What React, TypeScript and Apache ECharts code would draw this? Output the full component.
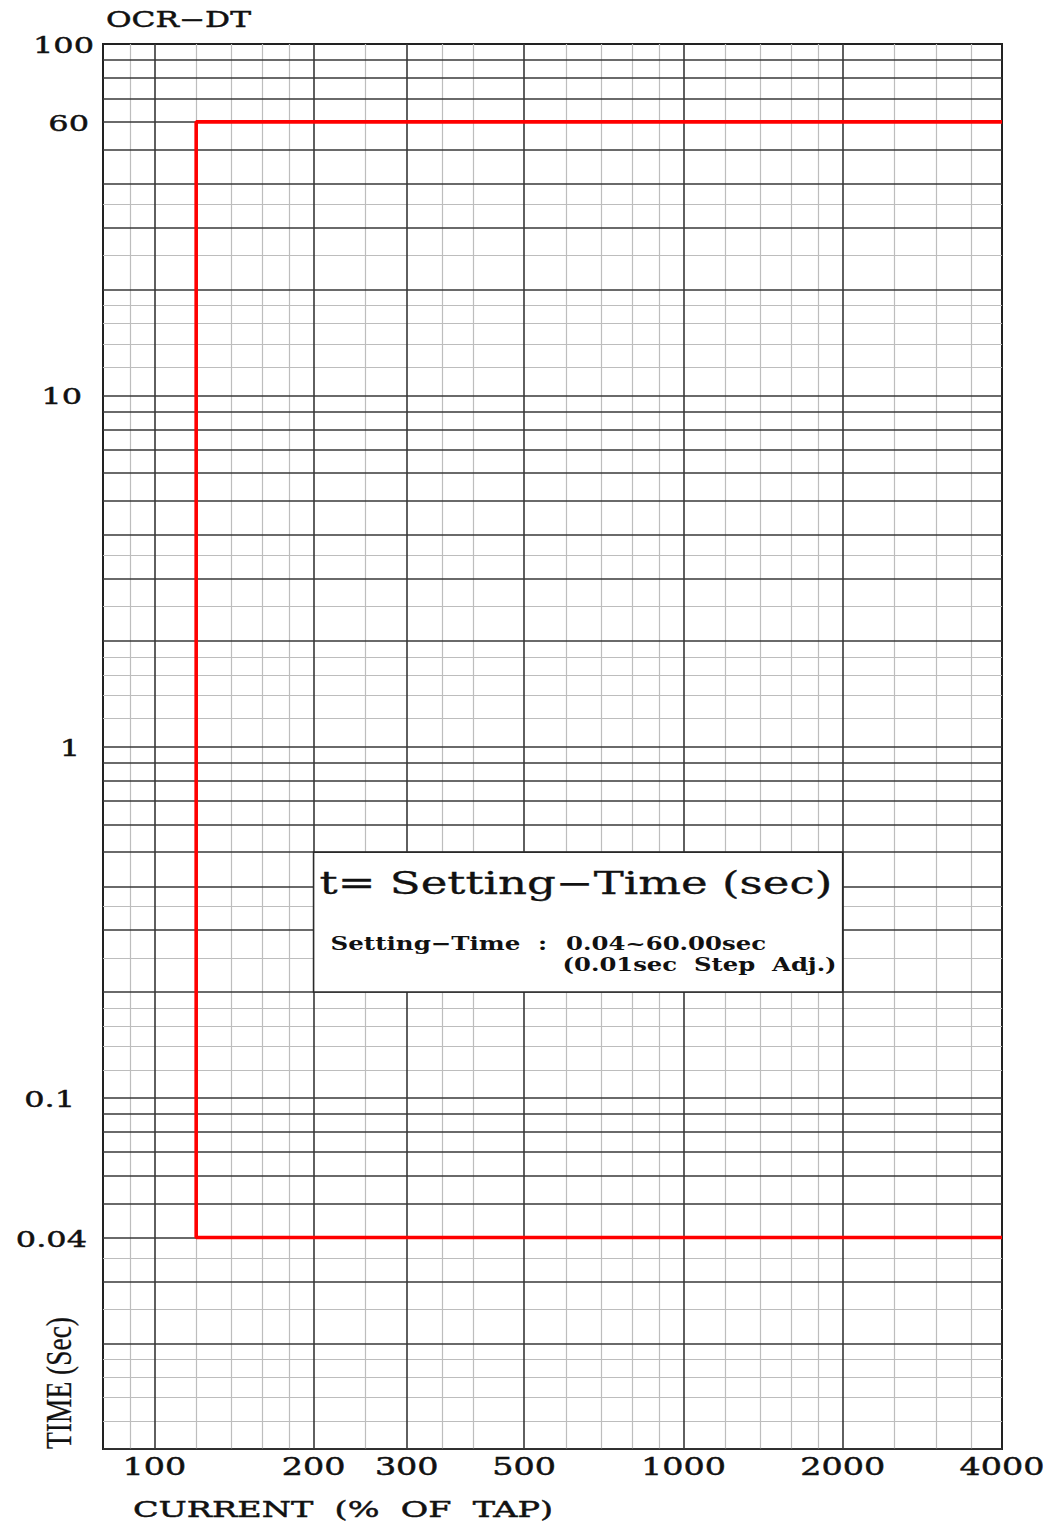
import React, { useEffect, useRef } from "react";
import * as echarts from "echarts";

// ---- data ----
const currentPct = [4000, 120, 120, 4000];
const timeSec = [60, 60, 0.04, 0.04];

const xTickValues = [100, 200, 300, 500, 1000, 2000, 4000];
const xTickText = ["100", "200", "300", "500", "1000", "2000", "4000"];
const yTickValues = [100, 60, 10, 1, 0.1, 0.04];
const yTickText = ["100", "60", "10", "1", "0.1", "0.04"];

const xMajorGrid = [100, 200, 300, 500, 1000, 2000];
const xMinorGrid = [90, 120, 140, 160, 180, 250, 350, 400, 600, 700, 800, 900, 1200, 1400, 1600, 1800, 2500, 3000, 3500];
const yDecades = [0.01, 0.1, 1, 10];
const yMajorSteps = [1, 2, 3, 4, 5, 6, 7, 8, 9];
const yMinorSteps = [1.2, 1.4, 1.6, 1.8, 2.5, 3.5];

const X_MIN = 80;
const X_MAX = 4000;
const Y_MIN = 0.01;
const Y_MAX = 100;

// note box corners in data units
const boxCurrent = [200, 2000];
const boxTime = [0.5, 0.2];

// ---- layout (pixels) ----
const yLabelRight = [94, 89, 82, 80, 75, 87];
const SERIF = "DejaVu Serif";

const measureCtx: any = typeof document !== "undefined" ? document.createElement("canvas").getContext("2d") : null;
function textWidth(text: string, family: string, size: number, weight: string) {
  measureCtx.font = `${weight} ${size}px "${family}"`;
  return measureCtx.measureText(text).width;
}

function txt(text: string, x: number, y: number, o: any) {
  const family = o.family || SERIF;
  const weight = o.weight || "normal";
  const size = o.size;
  let scaleX = o.scaleX || 1;
  if (o.width) scaleX = o.width / textWidth(text, family, size, weight);
  const align = o.align || "left";
  return {
    type: "text",
    x,
    y,
    scaleX,
    scaleY: 1,
    rotation: o.rotation || 0,
    silent: true,
    z: 100,
    style: {
      text,
      fontFamily: family,
      fontSize: size,
      fontWeight: weight,
      fill: "#111",
      stroke: o.stroke === 0 ? "transparent" : "#111",
      lineWidth: o.stroke === undefined ? 0.45 : o.stroke,
      textAlign: align,
      align,
      textVerticalAlign: "middle",
      verticalAlign: "middle",
    },
  };
}

const vLines = (vals: number[]) => vals.map((v) => ({ coords: [[v, Y_MIN], [v, Y_MAX]] }));
const hLines = (vals: number[]) => vals.map((v) => ({ coords: [[X_MIN, v], [X_MAX, v]] }));

export default function App() {
  const ref = useRef<HTMLDivElement>(null);

  useEffect(() => {
    if (!ref.current) return;
    const chart = echarts.init(ref.current, null, { renderer: "svg" });

    const yMajor: number[] = [];
    const yMinor: number[] = [];
    yDecades.forEach((d) => {
      yMajorSteps.forEach((s) => yMajor.push(+(d * s).toPrecision(6)));
      yMinorSteps.forEach((s) => yMinor.push(+(d * s).toPrecision(6)));
    });

    const option: any = {
      animation: false,
      backgroundColor: "#ffffff",
      grid: {
        left: 103,
        right: 49,
        top: 44,
        bottom: 77,
        show: true,
        borderColor: "#222",
        borderWidth: 2,
        backgroundColor: "#fff",
      },
      xAxis: {
        type: "log",
        logBase: 10,
        min: X_MIN,
        max: X_MAX,
        axisLine: { show: false },
        axisTick: { show: false },
        axisLabel: { show: false },
        splitLine: { show: false },
        minorSplitLine: { show: false },
      },
      yAxis: {
        type: "log",
        logBase: 10,
        min: Y_MIN,
        max: Y_MAX,
        axisLine: { show: false },
        axisTick: { show: false },
        axisLabel: { show: false },
        splitLine: { show: false },
        minorSplitLine: { show: false },
      },
      series: [
        {
          type: "lines",
          coordinateSystem: "cartesian2d",
          silent: true,
          z: 1,
          lineStyle: { color: "#bdbdbd", width: 1.2, opacity: 1 },
          data: [...vLines(xMinorGrid), ...hLines(yMinor)],
        },
        {
          type: "lines",
          coordinateSystem: "cartesian2d",
          silent: true,
          z: 2,
          lineStyle: { color: "#383838", width: 1.6, opacity: 1 },
          data: [...vLines(xMajorGrid), ...hLines(yMajor)],
        },
        {
          type: "line",
          name: "OCR-DT",
          z: 5,
          symbol: "none",
          showSymbol: false,
          clip: false,
          lineStyle: { color: "#ff0000", width: 3.6 },
          data: currentPct.map((c, i) => [c, timeSec[i]]),
        },
      ],
    };
    chart.setOption(option);

    const px = (x: number, y: number) => chart.convertToPixel({ gridIndex: 0 } as any, [x, y]) as number[];
    const bottom = px(X_MIN, Y_MIN)[1];
    const top = px(X_MIN, Y_MAX)[1];
    const left = px(X_MIN, Y_MIN)[0];

    const graphic: any[] = [];

    graphic.push(txt("OCR−DT", left + 3, top - 25, { size: 22, width: 145 }));

    yTickValues.forEach((v, i) => {
      const p = px(X_MIN, v);
      graphic.push(txt(yTickText[i], yLabelRight[i], p[1] + 1.5, { size: 22.5, scaleX: 1.42, align: "right" }));
    });

    xTickValues.forEach((v, i) => {
      const p = px(v, Y_MIN);
      graphic.push(txt(xTickText[i], p[0], bottom + 17.5, { size: 23.5, scaleX: 1.42, align: "center" }));
    });

    graphic.push(txt("CURRENT  (%  OF  TAP)", 133, bottom + 61, { size: 22, width: 420 }));
    graphic.push(
      txt("TIME (Sec)", 59, bottom - 66, {
        size: 35,
        family: "Liberation Serif",
        width: 132,
        align: "center",
        rotation: Math.PI / 2,
        stroke: 0.3,
      })
    );

    const b0 = px(boxCurrent[0], boxTime[0]);
    const b1 = px(boxCurrent[1], boxTime[1]);
    graphic.push({
      type: "rect",
      silent: true,
      z: 90,
      shape: { x: b0[0], y: b0[1], width: b1[0] - b0[0], height: b1[1] - b0[1] },
      style: { fill: "#ffffff", stroke: "#2a2a2a", lineWidth: 1.6 },
    });
    const bx = b0[0];
    const by = b0[1];
    graphic.push(txt("t= Setting−Time (sec)", bx + 6, by + 31, { size: 31, width: 513, stroke: 0.3 }));
    graphic.push(txt("Setting−Time", bx + 17, by + 90.5, { size: 19, weight: "bold", width: 190, stroke: 0 }));
    graphic.push(txt(":", bx + 229, by + 90.5, { size: 19, weight: "bold", scaleX: 1.3, align: "center", stroke: 0 }));
    graphic.push(txt("0.04~60.00sec", bx + 252.5, by + 90.5, { size: 19, weight: "bold", width: 200, stroke: 0 }));
    graphic.push(txt("(0.01sec  Step  Adj.)", bx + 249, by + 112.5, { size: 19, weight: "bold", width: 274, stroke: 0 }));

    chart.setOption({ graphic });

    return () => chart.dispose();
  }, []);

  return (
    <div
      ref={ref}
      style={{ position: "absolute", left: 0, top: 0, width: 1051, height: 1526, background: "#fff" }}
    />
  );
}
